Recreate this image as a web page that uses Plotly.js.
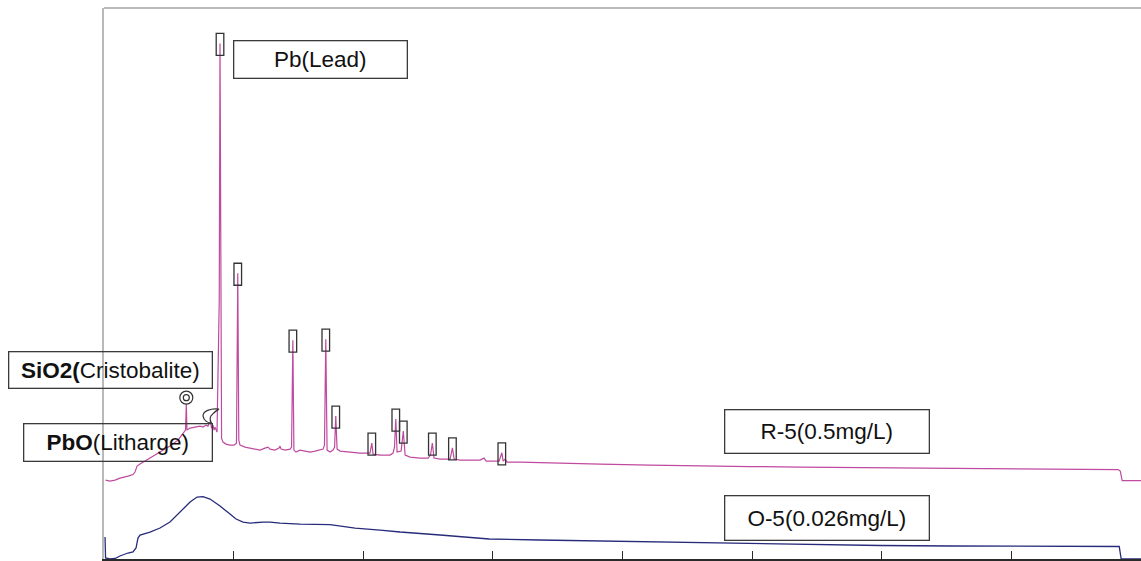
<!DOCTYPE html>
<html>
<head>
<meta charset="utf-8">
<script src="https://cdn.plot.ly/plotly-3.0.1.min.js"></script>
<style>html,body{margin:0;padding:0;background:#fff;}#chart{width:1141px;height:561px;}</style>
</head>
<body>
<div id="chart"></div>
<script>
// R-5 (0.5 mg/L) pattern, displayed with its offset (x: axis units, 10 per tick; y: arbitrary intensity)
const r5X = [0.12,0.46,0.85,1.23,1.85,2.24,2.39,2.55,2.78,3.55,4.32,5.09,5.71,6.10,6.29,6.35,6.40,6.64,7.02,7.41,7.64,7.87,8.02,8.22,8.29,8.41,8.49,8.56,8.72,8.89,8.95,9.01,9.07,9.18,9.41,9.72,10.03,10.22,10.32,10.40,10.49,10.88,11.27,11.65,12.04,12.42,12.65,12.81,13.19,13.50,13.58,13.66,13.97,14.35,14.47,14.57,14.65,14.81,15.12,15.51,15.90,16.28,16.67,16.90,17.01,17.11,17.21,17.44,17.67,17.79,17.88,17.98,18.21,18.98,19.75,20.52,20.66,20.76,21.30,22.07,22.30,22.41,22.51,22.61,22.92,23.09,23.23,23.61,24.38,25.00,25.19,25.33,25.46,25.93,26.70,26.88,27.01,27.47,28.24,29.01,29.32,29.48,30.17,30.48,30.69,30.79,30.94,31.10,32.10,34.41,38.27,42.13,45.99,49.85,53.70,61.42,69.14,76.85,78.24,78.40,78.55,80.0];
const r5Y = [790,780,790,810,830,845,870,930,950,1010,1070,1130,1190,1250,1290,1550,1290,1310,1320,1330,1320,1340,1330,1390,1310,1340,1290,1320,1270,2590,5160,2590,1210,1170,1150,1140,1140,1160,2860,1190,1140,1120,1110,1100,1090,1110,1120,1100,1090,1110,1130,1100,1090,1100,1120,2190,1090,1070,1090,1080,1070,1080,1090,1100,1140,2200,1090,1070,1090,1120,1430,1100,1080,1070,1060,1060,1160,1050,1040,1040,1060,1120,1400,1070,1080,1280,1040,1020,1010,1010,1040,1160,1010,1000,1000,1113,1000,990,990,990,1010,980,980,980,1063,980,1000,970,970,960,950,940,930,925,920,910,900,895,895,880,785,785];

// O-5 (0.026 mg/L) pattern
const o5X = [0.08,0.12,0.46,0.85,1.23,1.85,2.24,2.47,2.62,2.78,3.55,4.32,5.09,5.86,6.64,7.18,7.64,8.18,8.95,9.72,10.19,10.73,11.27,12.27,12.81,13.58,15.12,17.44,19.37,21.30,22.84,25.93,29.71,33.57,38.27,45.99,53.70,59.88,65.28,69.14,78.01,78.32,78.47,80.0];
const o5Y = [220,10,0,5,30,60,70,110,210,240,270,310,370,470,570,620,625,600,530,450,400,370,360,370,370,360,350,345,310,290,270,240,200,190,180,163,145,135,130,130,130,125,0,0];

// identified peaks (positions on the R-5 trace)
const pbPeaks = [8.95,10.32,14.57,17.11,17.88,20.66,22.51,23.09,25.33,26.88,30.69];
const sio2Peaks = [6.35];
const pboPeaks = [8.22];

const labels = {
  pb: 'Pb(Lead)',
  sio2: '<b>SiO2(</b>Cristobalite)',
  pbo: '<b>PbO</b>(Litharge)',
  r5: 'R-5(0.5mg/L)',
  o5: 'O-5(0.026mg/L)'
};

const pink = '#bf4a9f';
const navy = '#272b7a';
const edge = '#333';

function yAt(x){ const i = r5X.indexOf(x); return r5Y[i]; }

const shapes = [];
// gray top frame line
shapes.push({type:'line', xref:'paper', yref:'paper', x0:0, x1:1, y0:1, y1:1, line:{color:'#b9b9b9', width:2}});
pbPeaks.forEach(px => {
  shapes.push({type:'rect', xref:'x', yref:'y', xsizemode:'pixel', ysizemode:'pixel',
    xanchor:px, yanchor:yAt(px), x0:-3.8, x1:3.8, y0:-12, y1:10,
    line:{color:edge, width:1.3}, fillcolor:'rgba(0,0,0,0)'});
});
sio2Peaks.forEach(px => {
  const ya = yAt(px);
  shapes.push({type:'circle', xref:'x', yref:'y', xsizemode:'pixel', ysizemode:'pixel',
    xanchor:px, yanchor:ya, x0:-6.5, x1:6.5, y0:0, y1:13, line:{color:edge, width:1.2}});
  shapes.push({type:'circle', xref:'x', yref:'y', xsizemode:'pixel', ysizemode:'pixel',
    xanchor:px, yanchor:ya, x0:-3, x1:3, y0:3.5, y1:9.5, line:{color:edge, width:1.2}});
});
pboPeaks.forEach(px => {
  shapes.push({type:'path', xref:'x', yref:'y', xsizemode:'pixel', ysizemode:'pixel',
    xanchor:px, yanchor:yAt(px),
    path:'M 8.5 11 C 0 12 -8 9 -7.5 4 C -7 0 -3 -3 1 -3 C -1 0 -1 4 2 6 C 4 8 6 10 8.5 11 Z',
    line:{color:edge, width:1.2}, fillcolor:'rgba(255,255,255,0.6)'});
});

const font = {family:'"Liberation Sans", Arial, sans-serif', size:22.5, color:'#111'};
function box(text, px, py, w, h){
  return {text:text, xref:'paper', yref:'paper', x:(px-104)/1037, y:(559-py)/551.5,
    xanchor:'left', yanchor:'top', showarrow:false, width:w, height:h, align:'center', valign:'middle',
    bordercolor:'#3a3a3a', borderwidth:1.3, borderpad:0, bgcolor:'rgba(255,255,255,0)', font:font};
}
const annotations = [
  box(labels.pb, 233, 39.3, 172, 36),
  box(labels.sio2, 8, 351, 202, 35.5),
  box(labels.pbo, 22.7, 423, 187, 36),
  box(labels.r5, 724, 409, 203, 42.5),
  box(labels.o5, 724, 495, 203, 43.5)
];

const traces = [
  {x:o5X, y:o5Y, type:'scatter', mode:'lines', line:{color:navy, width:1.3}, hoverinfo:'skip', name:'O-5'},
  {x:r5X, y:r5Y, type:'scatter', mode:'lines', line:{color:pink, width:1.2}, hoverinfo:'skip', name:'R-5'}
];

const layout = {
  width:1141, height:561,
  margin:{l:104, r:0, t:7.5, b:2},
  paper_bgcolor:'#fff', plot_bgcolor:'#fff',
  showlegend:false,
  xaxis:{range:[0,80], showgrid:false, zeroline:false, showline:true, linecolor:'#2a2a2a', linewidth:1.5,
    ticks:'inside', ticklen:8, tickwidth:1.2, tickcolor:'#2a2a2a', tickvals:[10,20,30,40,50,60,70],
    showticklabels:false, fixedrange:true},
  yaxis:{range:[0,5515], showgrid:false, zeroline:false, showline:true, linecolor:'#b9b9b9', linewidth:2,
    ticks:'', showticklabels:false, fixedrange:true},
  shapes:shapes,
  annotations:annotations
};

Plotly.newPlot('chart', traces, layout, {staticPlot:true, displayModeBar:false});
</script>
</body>
</html>
